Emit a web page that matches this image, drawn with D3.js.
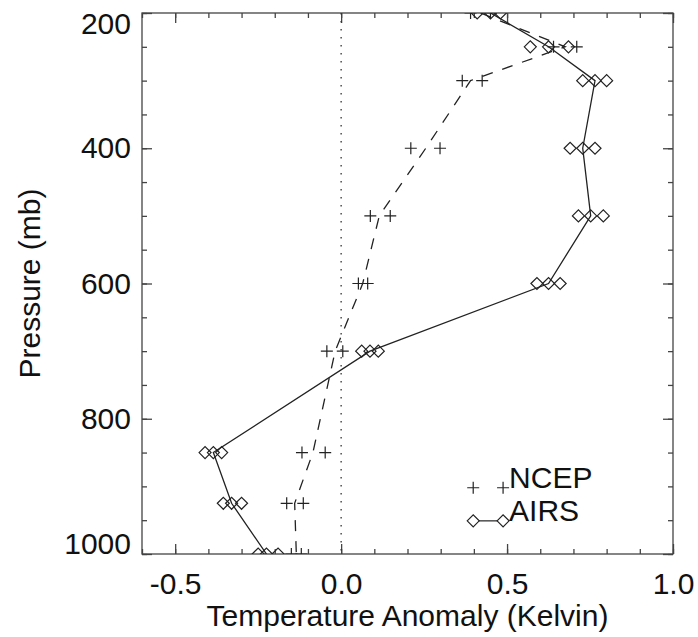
<!DOCTYPE html>
<html>
<head>
<meta charset="utf-8">
<script src="https://cdn.jsdelivr.net/npm/d3@7"></script>
<style>
  body { margin: 0; background: #fff; }
  svg { display: block; }
  text { font-family: "Liberation Sans", Arial, Helvetica, sans-serif; fill: #111; }
</style>
</head>
<body>
<svg id="chart" width="698" height="637"></svg>
<script>
// pressure levels (mb)
const pressure = [200, 250, 300, 400, 500, 600, 700, 850, 925, 1000];

// AIRS anomaly: line value and the two outer diamonds
const airsMid  = [0.45, 0.625, 0.765, 0.728, 0.752, 0.625, 0.087, -0.385, -0.33, -0.225];
const airsLow  = [0.41, 0.57, 0.728, 0.69, 0.715, 0.59, 0.062, -0.41, -0.355, -0.25];
const airsHigh = [0.48, 0.685, 0.80, 0.765, 0.79, 0.66, 0.112, -0.36, -0.30, -0.19];

// NCEP anomaly: dashed line value and the two outer crosses
const ncepMid  = [0.42, 0.675, 0.39, 0.255, 0.115, 0.065, -0.018, -0.085, -0.14, -0.135];
const ncepLow  = [0.39, 0.64, 0.365, 0.21, 0.088, 0.052, -0.043, -0.118, -0.164, -0.15];
const ncepHigh = [0.45, 0.71, 0.425, 0.298, 0.148, 0.08, 0.005, -0.048, -0.114, -0.12];

const xTicks = [-0.5, 0.0, 0.5, 1.0];
const xMinor = d3.range(-6, 11).map(d => d / 10);
const yTicks = [200, 400, 600, 800, 1000];
const yMinor = d3.range(200, 1001, 50);

const svg = d3.select("#chart");
const boxLeft = 142, boxRight = 673, boxTop = 13, boxBottom = 554;
const fontSize = "30px";

const x = d3.scaleLinear().domain([-0.6, 1.0]).range([boxLeft, boxRight]);
const y = d3.scaleLinear().domain([200, 1000]).range([boxTop, boxBottom]);

// axes, ticks pointing inward
function styleAxis(g) {
    g.select(".domain").remove();
    g.selectAll(".tick line").attr("stroke", "#444").attr("stroke-width", 1.3);
    g.selectAll(".tick text").style("font-size", fontSize).attr("fill", "#111");
}

svg.append("g").attr("transform", `translate(0,${boxBottom})`)
    .call(d3.axisBottom(x).tickValues(xMinor).tickSize(-5).tickFormat(""))
    .call(styleAxis);
svg.append("g").attr("transform", `translate(0,${boxBottom})`)
    .call(d3.axisBottom(x).tickValues(xTicks).tickSize(-10).tickPadding(19).tickFormat(d => d.toFixed(1)))
    .call(styleAxis);
svg.append("g").attr("transform", `translate(0,${boxTop})`)
    .call(d3.axisTop(x).tickValues(xMinor).tickSize(-5).tickFormat(""))
    .call(styleAxis);
svg.append("g").attr("transform", `translate(0,${boxTop})`)
    .call(d3.axisTop(x).tickValues(xTicks).tickSize(-10).tickFormat(""))
    .call(styleAxis);

svg.append("g").attr("transform", `translate(${boxLeft},0)`)
    .call(d3.axisLeft(y).tickValues(yMinor).tickSize(-5).tickFormat(""))
    .call(styleAxis);
svg.append("g").attr("transform", `translate(${boxLeft},0)`)
    .call(d3.axisLeft(y).tickValues(yTicks).tickSize(-10).tickPadding(11).tickFormat(d3.format("d")))
    .call(styleAxis)
    // end labels are kept inside the height of the box
    .call(g => g.selectAll(".tick text")
        .attr("y", d => Math.max(boxTop + 11, Math.min(boxBottom - 10, y(d))) - y(d)));
svg.append("g").attr("transform", `translate(${boxRight},0)`)
    .call(d3.axisRight(y).tickValues(yMinor).tickSize(-5).tickFormat(""))
    .call(styleAxis);
svg.append("g").attr("transform", `translate(${boxRight},0)`)
    .call(d3.axisRight(y).tickValues(yTicks).tickSize(-10).tickFormat(""))
    .call(styleAxis);

svg.append("rect")
    .attr("x", boxLeft).attr("y", boxTop)
    .attr("width", boxRight - boxLeft).attr("height", boxBottom - boxTop)
    .attr("fill", "none").attr("stroke", "#444").attr("stroke-width", 1.3);

// axis titles
svg.append("text")
    .attr("x", (boxLeft + boxRight) / 2).attr("y", 626)
    .attr("text-anchor", "middle")
    .style("font-size", fontSize)
    .text("Temperature Anomaly (Kelvin)");

svg.append("text")
    .attr("transform", `translate(40,${(boxTop + boxBottom) / 2}) rotate(-90)`)
    .attr("text-anchor", "middle")
    .style("font-size", fontSize)
    .text("Pressure (mb)");

// clip data marks to the plot box
svg.append("clipPath").attr("id", "box")
    .append("rect").attr("x", boxLeft).attr("y", boxTop)
    .attr("width", boxRight - boxLeft).attr("height", boxBottom - boxTop);
const plot = svg.append("g").attr("clip-path", "url(#box)");

// zero reference line
plot.append("line")
    .attr("x1", x(0)).attr("x2", x(0))
    .attr("y1", boxTop).attr("y2", boxBottom)
    .attr("stroke", "#333").attr("stroke-width", 1.3)
    .attr("stroke-dasharray", "1.5,6.5");

const line = d3.line().x(d => x(d[0])).y(d => y(d[1]));

const ncep = pressure.map((p, i) => [ncepMid[i], p]);
const airs = pressure.map((p, i) => [airsMid[i], p]);

plot.append("path").datum(ncep)
    .attr("d", line).attr("fill", "none")
    .attr("stroke", "#222").attr("stroke-width", 1.3)
    .attr("stroke-dasharray", "11,10");

plot.append("path").datum(airs)
    .attr("d", line).attr("fill", "none")
    .attr("stroke", "#222").attr("stroke-width", 1.3);

const plusPath = "M-6,0H6M0,-6V6";
const diamondPath = "M-6,0L0,-6L6,0L0,6Z";

function drawSymbols(g, vals, shape) {
    g.selectAll(null)
        .data(pressure.map((p, i) => [vals[i], p]))
        .enter().append("path")
        .attr("d", shape)
        .attr("transform", d => `translate(${x(d[0])},${y(d[1])})`)
        .attr("fill", "none")
        .attr("stroke", "#222").attr("stroke-width", 1.2);
}

drawSymbols(plot, ncepLow, plusPath);
drawSymbols(plot, ncepHigh, plusPath);
drawSymbols(plot, airsLow, diamondPath);
drawSymbols(plot, airsMid, diamondPath);
drawSymbols(plot, airsHigh, diamondPath);

// legend (placed in data units, like the original)
const legend = [
    { name: "NCEP", p: 902, shape: plusPath, line: false },
    { name: "AIRS", p: 951, shape: diamondPath, line: true }
];
const lx0 = 0.398, lx1 = 0.488;

legend.forEach(d => {
    if (d.line) {
        svg.append("line")
            .attr("x1", x(lx0)).attr("x2", x(lx1))
            .attr("y1", y(d.p)).attr("y2", y(d.p))
            .attr("stroke", "#222").attr("stroke-width", 1.2);
    }
    [lx0, lx1].forEach(v => {
        svg.append("path")
            .attr("d", d.shape)
            .attr("transform", `translate(${x(v)},${y(d.p)})`)
            .attr("fill", d.line ? "#fff" : "none")
            .attr("stroke", "#222").attr("stroke-width", 1.2);
    });
    svg.append("text")
        .attr("x", x(lx1) + 6).attr("y", y(d.p))
        .style("font-size", fontSize)
        .text(d.name);
});
</script>
</body>
</html>
